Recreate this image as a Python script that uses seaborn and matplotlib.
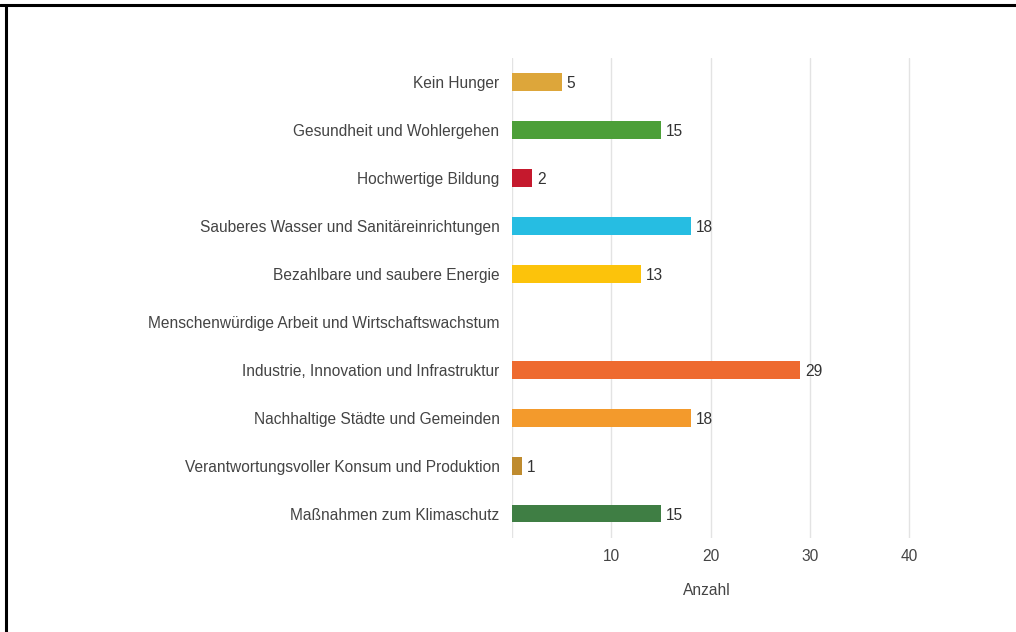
import matplotlib
matplotlib.use("Agg")
import matplotlib.pyplot as plt
import seaborn as sns
import pandas as pd
from matplotlib.lines import Line2D

categories = [
    "Kein Hunger",
    "Gesundheit und Wohlergehen",
    "Hochwertige Bildung",
    "Sauberes Wasser und Sanitäreinrichtungen",
    "Bezahlbare und saubere Energie",
    "Menschenwürdige Arbeit und Wirtschaftswachstum",
    "Industrie, Innovation und Infrastruktur",
    "Nachhaltige Städte und Gemeinden",
    "Verantwortungsvoller Konsum und Produktion",
    "Maßnahmen zum Klimaschutz",
]
values = [5, 15, 2, 18, 13, 0, 29, 18, 1, 15]
colors = ["#DDA63A", "#4C9F38", "#C5192D", "#26BDE2", "#FCC30B",
          "#A21942", "#EE6A2F", "#F39A2C", "#BF8B2E", "#3F7E44"]
xticks = [10, 20, 30, 40]
xlabel = "Anzahl"

df = pd.DataFrame({"cat": categories, "val": values})

sns.set_theme(style="white")
plt.rcParams["font.family"] = ["Liberation Sans", "DejaVu Sans"]

fig = plt.figure(figsize=(10.16, 6.32), dpi=100)
ax = fig.add_axes([0.504, 0.149, 0.44, 0.759])

sns.barplot(data=df, y="cat", x="val", hue="cat", palette=colors,
            legend=False, width=0.36, ax=ax, orient="h",
            linewidth=0, saturation=1)

ax.set_xlim(0, 45)
ax.set_ylim(9.5, -0.5)
ax.set_xticks(xticks)
ax.set_xticklabels([str(t) for t in xticks], fontsize=11.2, color="#444444")
ax.tick_params(axis="y", labelsize=11.2, labelcolor="#444444", length=0, pad=9)
ax.tick_params(axis="x", length=0, pad=8)
ax.set_ylabel("")
ax.set_xlabel(xlabel, fontsize=11.2, color="#444444")
ax.xaxis.set_label_coords(0.436, -0.095)
ax.grid(axis="x", color="#e3e3e3", linewidth=1)
ax.axvline(0, color="#e3e3e3", linewidth=1, zorder=0)
ax.set_axisbelow(True)
for s in ax.spines.values():
    s.set_visible(False)

for i, v in enumerate(values):
    if v > 0:
        ax.text(v + 0.5, i + 0.03, str(v), va="center", ha="left",
                fontsize=11.2, color="#333333")

# screenshot frame (top and left edges)
fig.add_artist(Line2D([0, 1], [1 - 4.5 / 632, 1 - 4.5 / 632],
                      transform=fig.transFigure, color="black", linewidth=2.2))
fig.add_artist(Line2D([6 / 1016, 6 / 1016], [0, 1 - 4.5 / 632],
                      transform=fig.transFigure, color="black", linewidth=2.2))

fig.savefig("out.png", dpi=100)
